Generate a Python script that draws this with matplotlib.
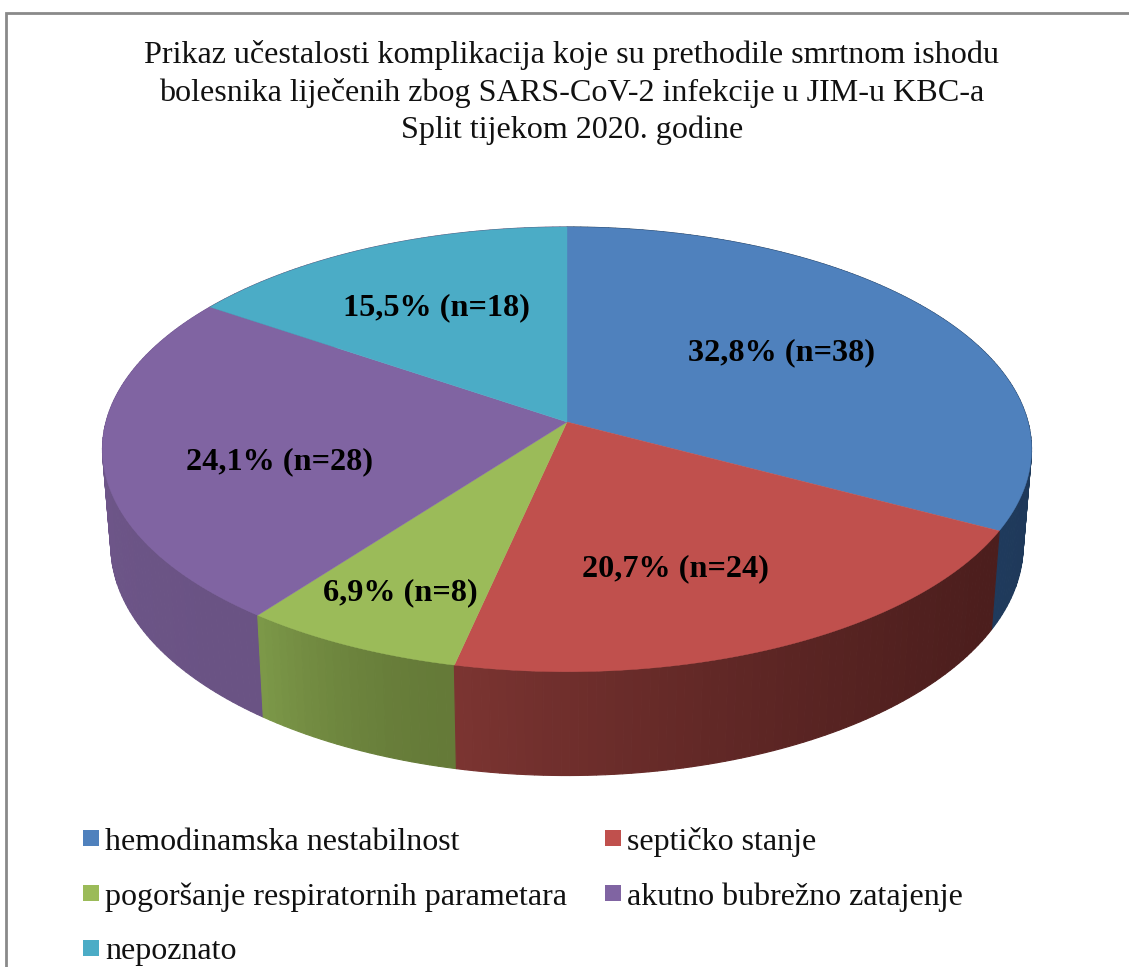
"""3D pie of complications, drawn as a perspective-projected disc
"""
import numpy as np
import matplotlib
matplotlib.use('Agg')
import matplotlib.pyplot as plt
import matplotlib.colors as mcolors
from matplotlib.patches import Polygon, Rectangle

W = 1129
H = 967

title_lines = [
    'Prikaz učestalosti komplikacija koje su prethodile smrtnom ishodu',
    'bolesnika liječenih zbog SARS-CoV-2 infekcije u JIM-u KBC-a',
    'Split tijekom 2020. godine',
]
categories = ['hemodinamska nestabilnost', 'septičko stanje',
              'pogoršanje respiratornih parametara', 'akutno bubrežno zatajenje',
              'nepoznato']
counts = [38, 24, 8, 28, 18]
percents = ['32,8%', '20,7%', '6,9%', '24,1%', '15,5%']

top_colors = ['#4f81bd', '#c0504d', '#9bbb59', '#8064a2', '#4bacc6']
# side wall colour at the start and end of each slice (clockwise)
side_colors = [('#1c3450', '#1f3a5c'), ('#4c1e1d', '#7b3431'), ('#657a38', '#7c9848'),
               ('#6a5384', '#755b94'), ('#5a4a70', '#5a4a70')]

# perspective projection of the disc, pixels
CX = 567.0
CY = 422.0
R = 461.0
B = 219.0
P = 0.123
WALL_H = 95.0
WALL_S = 0.982

# label centres and legend layout, pixels
label_xy = [(782, 353), (675, 569), (400, 593), (279, 462), (436, 308)]
legend_xy = [(83, 842), (605, 842), (83, 897), (605, 897), (83, 952)]


def project(theta, bottom=False):
    u = np.sin(theta)
    v = np.cos(theta)
    w = 1 + P * v
    x = R * u / w
    y = -B * v / w
    if bottom:
        return CX + x * WALL_S, CY + y * WALL_S + WALL_H / w
    return CX + x, CY + y


fig = plt.figure(figsize=(W / 100, H / 100), dpi=100)
ax = fig.add_axes([0, 0, 1, 1])
ax.set_xlim(0, W)
ax.set_ylim(H, 0)
ax.axis('off')
plt.rcParams['font.family'] = ['Liberation Serif', 'DejaVu Sans']

ax.add_patch(Rectangle((6, 13), W + 20, H + 20, facecolor='white', edgecolor='#8a8a8a', linewidth=2))

edges = np.cumsum([0] + counts) / np.sum(counts) * 2 * np.pi

# side wall, back to front
quads = []
for i in range(len(counts)):
    ts = np.linspace(edges[i], edges[i + 1], max(int((edges[i + 1] - edges[i]) * 60), 2))
    c0 = np.array(mcolors.to_rgb(side_colors[i][0]))
    c1 = np.array(mcolors.to_rgb(side_colors[i][1]))
    for j in range(len(ts) - 1):
        f = j / (len(ts) - 2) if len(ts) > 2 else 0
        quads.append((ts[j], ts[j + 1], c0 + (c1 - c0) * f ** 1.6))
quads.sort(key=lambda q: -np.cos(q[0]))
for t0, t1, col in quads:
    pts = [project(t0), project(t1), project(t1, True), project(t0, True)]
    ax.add_patch(Polygon(pts, closed=True, facecolor=col, edgecolor=col, linewidth=0.8))

# top face
for i in range(len(counts)):
    ts = np.linspace(edges[i], edges[i + 1], 200)
    x, y = project(ts)
    pts = [(CX, CY)] + list(zip(x, y))
    ax.add_patch(Polygon(pts, closed=True, facecolor=top_colors[i], edgecolor=top_colors[i], linewidth=0.3))

for i in range(len(counts)):
    ax.text(label_xy[i][0], label_xy[i][1], f'{percents[i]} (n={counts[i]})', ha='center', va='center',
            fontsize=23.2, fontweight='bold', color='black')

for k, line in enumerate(title_lines):
    ax.text(572, 55 + k * 37.5, line, ha='center', va='center', fontsize=23.1, color='#111111')

for i in range(len(categories)):
    lx, ly = legend_xy[i]
    ax.add_patch(Rectangle((lx, ly - 12), 16, 16, facecolor=top_colors[i], edgecolor='none'))
    ax.text(lx + 22, ly, categories[i], ha='left', va='center', fontsize=23.0, color='#111111')

fig.savefig('out.png', dpi=100)
